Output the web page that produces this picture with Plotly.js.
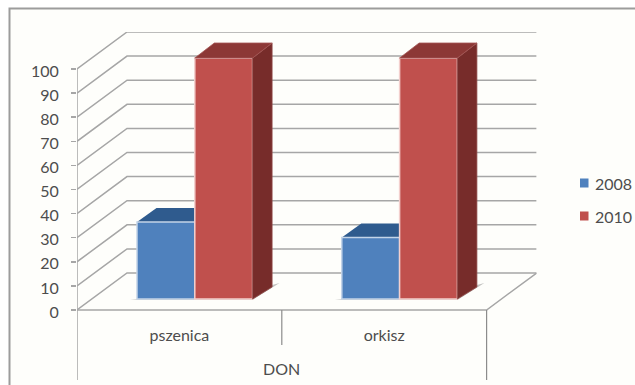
<!DOCTYPE html>
<html>
<head>
<meta charset="utf-8">
<script src="https://cdn.plot.ly/plotly-3.0.1.min.js"></script>
<style>html,body{margin:0;padding:0;background:#fff;overflow:hidden}</style>
</head>
<body>
<div id="chart" style="width:635px;height:385px"></div>
<script>
// Chart data
const categories = ['pszenica', 'orkisz'];
const groupTitle = 'DON';
const seriesNames = ['2008', '2010'];
const values2008 = [32, 25.5];
const values2010 = [100, 100];
const yTicks = [0, 10, 20, 30, 40, 50, 60, 70, 80, 90, 100];

// Page geometry of the pseudo-3D box, in pixels
const W = 635, H = 385;
const originX = 77, originY = 310, catPx = 204.8, unitPx = 2.41;
const wallDX = 50, wallDY = 37;
const plotRight = originX + wallDX + 2 * catPx, plotTop = 32, plotBottom = 383;
const barW = 57.8, barGapFromCat = 60, barDX = 19.5, topDY = 15, floorDY = 12, planeDY = 11;

// Pixel lengths expressed in axis units
const dx = px => px / catPx;
const dy = px => px / unitPx;
const xMax = dx(plotRight - originX);
const yMax = dy(originY - plotTop);
const yMin = -dy(plotBottom - originY);

const axisInk = '#a6a6a6', textInk = '#4d4d4d', font = 'Lato, "Open Sans", sans-serif';
const gridLine = {color: axisInk, width: 1.5};

function poly(xs, ys, fill, line) {
  return {type: 'scatter', mode: 'lines', x: [...xs, xs[0]], y: [...ys, ys[0]], fill: 'toself',
    fillcolor: fill, line: line || {width: 0}, hoverinfo: 'skip', showlegend: false};
}
function path(xs, ys, line) {
  return {type: 'scatter', mode: 'lines', x: xs, y: ys, line: line || gridLine,
    hoverinfo: 'skip', showlegend: false};
}

// Back layer: walls, floor, shadows and the top face of the short bars
const back = [];
yTicks.forEach(v => {
  back.push(path([0, dx(wallDX), xMax], [v, v + dy(wallDY), v + dy(wallDY)]));
});
back.push(path([xMax, 2, 0], [dy(wallDY), 0, 0]));
back.push(path([0, 0], [100, yMin + dy(3)]));
back.push(path([1, 1], [0, -dy(35)], {color: '#8c8c8c', width: 1.2}));
back.push(path([2, 2], [0, yMin + dy(3)], {color: '#8c8c8c', width: 1.2}));

const barLeft = i => i + dx(barGapFromCat);
const barMid = i => barLeft(i) + dx(barW);
const barRight = i => barMid(i) + dx(barW);
const base = dy(planeDY);

categories.forEach((c, i) => {
  back.push(poly(
    [barLeft(i) - dx(7), barRight(i), barRight(i) + dx(27), barRight(i) + dx(19.5)],
    [base - dy(1), base - dy(1), base + dy(16), base + dy(14)], '#c4c4c2'));
  const top = base + values2008[i];
  back.push(poly(
    [barLeft(i), barMid(i), barMid(i) + dx(barDX), barLeft(i) + dx(barDX)],
    [top, top, top + dy(topDY - 1), top + dy(topDY - 1)], '#2f5b8e'));
});

// Front layer: the bars themselves, then the faces of the tall bars
const bars = [
  {name: seriesNames[0], type: 'bar', xaxis: 'x2', yaxis: 'y2',
   x: categories.map((c, i) => barLeft(i) + dx(barW) / 2), y: values2008,
   base: categories.map(() => base), width: dx(barW),
   marker: {color: '#4f81bd', line: {color: '#c3d4e8', width: 1.5}}, showlegend: false},
  {name: seriesNames[1], type: 'bar', xaxis: 'x2', yaxis: 'y2',
   x: categories.map((c, i) => barMid(i) + dx(barW) / 2), y: values2010,
   base: categories.map(() => base), width: dx(barW),
   marker: {color: '#c0504d', line: {color: '#f3cfcd', width: 1.5}}, showlegend: false}
];
const faces = [];
categories.forEach((c, i) => {
  const top = base + values2010[i];
  const r = barRight(i), m = barMid(i), d = dx(barDX);
  faces.push(poly([r, r + d, r + d, r],
    [top, top + dy(topDY), base + dy(floorDY), base], '#772c2a', {color: '#8f4a48', width: 0.8}));
  faces.push(poly([m, r, r + d, m + d],
    [top, top, top + dy(topDY), top + dy(topDY)], '#8c3836', {color: '#a55755', width: 0.8}));
});
faces.forEach(t => { t.xaxis = 'x2'; t.yaxis = 'y2'; });

// Page-level helpers: with zero margins, paper coordinates map straight to the page
const px = v => v / W, py = v => 1 - v / H;
const swatch = (x, y, color) => ({type: 'rect', xref: 'paper', yref: 'paper', layer: 'above',
  x0: px(x), x1: px(x + 8.5), y0: py(y - 4.5), y1: py(y + 4.5), fillcolor: color, line: {width: 0}});
const legendText = (y, text) => ({xref: 'paper', yref: 'paper', x: px(593), y: py(y), text,
  xanchor: 'left', yanchor: 'middle', showarrow: false, font: {family: font, size: 16, color: textInk}});

const hiddenAxis = {visible: false, fixedrange: true};
const layout = {
  width: W, height: H, margin: {l: 0, r: 0, t: 0, b: 0, pad: 0, autoexpand: false},
  paper_bgcolor: '#ffffff', plot_bgcolor: 'rgba(0,0,0,0)',
  showlegend: false, barmode: 'overlay',
  xaxis: {domain: [px(originX), px(plotRight)], range: [0, xMax], anchor: 'free',
    position: py(originY), tickmode: 'array', tickvals: [0.5, 1.5], ticktext: categories,
    ticks: '', ticklabelstandoff: 14, showgrid: false, zeroline: false, showline: false,
    tickfont: {family: font, size: 16, color: textInk}, fixedrange: true},
  yaxis: {domain: [py(plotBottom), py(plotTop)], range: [yMin, yMax], anchor: 'x',
    tickmode: 'array', tickvals: yTicks, ticks: 'outside', ticklen: 5, tickwidth: 1.5,
    tickcolor: axisInk, ticklabelstandoff: 9, ticklabelshift: 2, showgrid: false, zeroline: false, showline: false,
    tickfont: {family: font, size: 16, color: textInk}, fixedrange: true},
  xaxis2: Object.assign({overlaying: 'x', domain: [px(originX), px(plotRight)], range: [0, xMax], anchor: 'y2'}, hiddenAxis),
  yaxis2: Object.assign({overlaying: 'y', domain: [py(plotBottom), py(plotTop)], range: [yMin, yMax], anchor: 'x2'}, hiddenAxis),
  shapes: [
    {type: 'rect', xref: 'paper', yref: 'paper', layer: 'below', x0: px(9.5), x1: px(H + W), y0: py(8.5), y1: py(H + 5),
     fillcolor: '#fefefb', line: {color: '#9c9c9c', width: 2}},
    swatch(580, 183, '#4f81bd'),
    swatch(580, 216, '#c0504d')
  ],
  annotations: [
    legendText(183, seriesNames[0]),
    legendText(216, seriesNames[1]),
    {xref: 'x', yref: 'y', x: 1, y: -dy(58), text: groupTitle, showarrow: false,
     xanchor: 'center', yanchor: 'middle', font: {family: font, size: 16, color: textInk}}
  ]
};

Plotly.newPlot('chart', [...back, ...bars, ...faces], layout, {displayModeBar: false, staticPlot: true});
</script>
</body>
</html>
